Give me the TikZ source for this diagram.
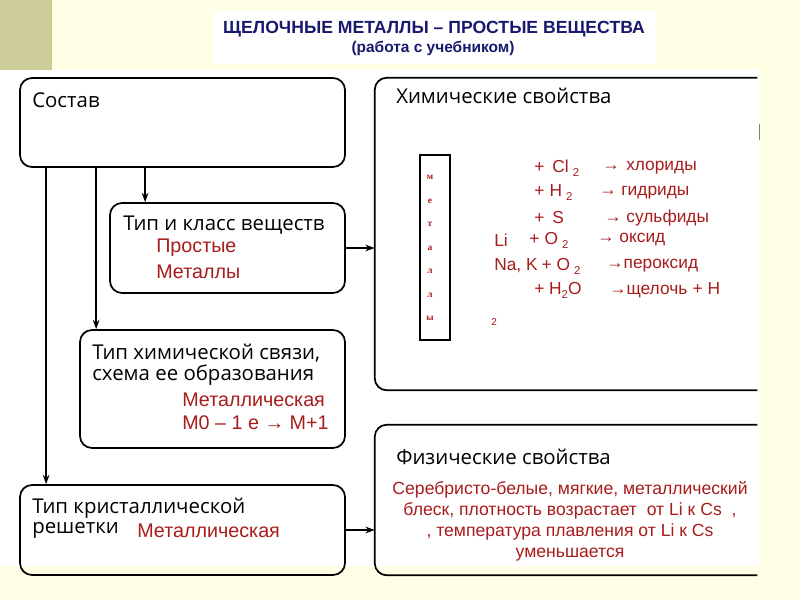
\documentclass[tikz,border=0pt]{standalone}
\usepackage{fontspec}
\setmainfont{Liberation Sans}
\newfontfamily\gothic{Open Sans}
\newfontfamily\smallserif{Liberation Serif}
\usetikzlibrary{arrows.meta,calc}

\definecolor{fon}{RGB}{255,255,230}
\definecolor{olivebar}{RGB}{204,204,153}
\definecolor{navy}{RGB}{25,25,110}
\definecolor{krasn}{RGB}{168,28,28}
\newcommand{\fsz}[2]{\fontsize{#1}{#2}\selectfont}
\newcommand{\ind}[1]{\raisebox{-3pt}{\fsz{8.5pt}{9pt}#1}}

\begin{document}
\begin{tikzpicture}[x=0.75pt,y=0.75pt,yscale=-1,xscale=1,
  box/.style={draw,line width=1.3pt,rounded corners=9pt,inner sep=0pt},
  arr/.style={line width=1pt,-{Stealth[length=7pt,width=5pt]}},
  lbl/.style={anchor=west,inner sep=0.75pt,font=\gothic\fsz{15.3pt}{18pt}},
  rtxt/.style={anchor=west,inner sep=0.75pt,text=krasn,font=\fsz{14.8pt}{17pt}},
  chem/.style={anchor=west,inner sep=0.75pt,text=krasn,font=\fsz{13pt}{15pt}}]

% background
\fill[fon] (0,0) rectangle (800,600);
\fill[olivebar] (0,0) rectangle (52,72);
\fill[white] (213,11) rectangle (656,64);
\fill[white] (0,70) rectangle (760,566);

% title
\node[font=\bfseries\fsz{13.2pt}{15pt},text=navy] (title) at (434,29) {ЩЕЛОЧНЫЕ МЕТАЛЛЫ – ПРОСТЫЕ ВЕЩЕСТВА};
\node[font=\bfseries\fsz{11.6pt}{13pt},text=navy] (subtitle) at (433,48) {(работа с учебником)};

% boxes
\node[box,minimum width=243.75pt,minimum height=66.75pt] (sostav) at (182.5,122.5) {};
\node[box,minimum width=176.25pt,minimum height=67.5pt] (tipklass) at (227.5,248) {};
\node[box,minimum width=198.75pt,minimum height=88.5pt] (svyaz) at (212.5,389) {};
\node[box,minimum width=243.75pt,minimum height=67.5pt] (reshetka) at (182.5,530) {};
\node[minimum width=286.5pt,minimum height=234pt,inner sep=0pt] (himsv) at (566,234) {};
\node[minimum width=286.5pt,minimum height=112.5pt,inner sep=0pt] (fizsv) at (566,500) {};
\draw[line width=1.3pt,rounded corners=9pt] (himsv.north east) -- (himsv.north west) -- (himsv.south west) -- (himsv.south east);
\draw[line width=1.3pt,rounded corners=9pt] (fizsv.north east) -- (fizsv.north west) -- (fizsv.south west) -- (fizsv.south east);
\draw[line width=0.4pt,gray] (759,124) -- (759,140);

% connectors
\coordinate (c1) at ($(sostav.south west)+(126,0)$);
\coordinate (c2) at ($(sostav.south west)+(77,0)$);
\coordinate (c3) at ($(sostav.south west)+(27,0)$);
\draw[arr] (c1) -- (c1 |- tipklass.north);
\draw[arr] (c2) -- (c2 |- svyaz.north);
\draw[arr] (c3) -- (c3 |- reshetka.north);
\draw[arr] (tipklass.east) -- (tipklass.east -| himsv.west);
\draw[arr] (reshetka.east) -- (reshetka.east -| fizsv.west);

% box texts
\node[lbl] (sostavtxt) at (31,100) {Состав};
\node[lbl] (klasstxt) at (122,225) {Тип и класс веществ};
\node[rtxt] (prostye) at (155,248) {Простые};
\node[rtxt] (metally) at (155,272) {Металлы};
\node[lbl] (svyaztxt1) at (91,353) {Тип химической связи,};
\node[lbl] (svyaztxt2) at (91,375) {схема ее образования};
\node[rtxt] (metsvyaz) at (181,400) {Металлическая};
\node[rtxt] (shema) at (181,423) {М0 – 1 е → М+1};
\node[lbl] (reshtxt1) at (31,508) {Тип кристаллической};
\node[lbl] (reshtxt2) at (31,530) {решетки};
\node[rtxt] (metresh) at (136,531) {Металлическая};
\node[lbl] (himtxt) at (395,96) {Химические свойства};
\node[lbl] (fiztxt) at (395,457) {Физические свойства};
\node[anchor=center,inner sep=0.75pt,text=krasn,align=center,font=\fsz{13.2pt}{15.75pt}] (fizdata) at (570,521)
  {Серебристо-белые, мягкие, металлический\\блеск, плотность возрастает~ от Li к Cs~ ,\\, температура плавления от Li к Cs\\уменьшается};

% metals box
\node[draw,line width=1pt,minimum width=22.5pt,minimum height=138.75pt,inner sep=0pt] (metbox) at (435,247.5) {};
\foreach \b [count=\i] in {м,е,т,а,л,л,ы}
  \node[text=krasn,font=\smallserif\bfseries\fsz{7pt}{8pt},inner sep=0pt] (let\i) at (430,154+23.5*\i) {\b};

% reactions
\node[chem] (r1a) at (533,168) {+\hspace{6pt}Cl\hspace{3pt}\ind{2}};
\node[chem] (r1b) at (601,168) {→\hspace{5pt}хлориды};
\node[chem] (r2a) at (533,193) {+\hspace{4pt}H\hspace{3pt}\ind{2}};
\node[chem] (r2b) at (598,193) {→ гидриды};
\node[chem] (r3a) at (533,218) {+\hspace{6pt}S};
\node[chem] (r3b) at (603,218) {→ сульфиды};
\node[chem] (r4a) at (493,240) {Li};
\node[chem] (r4b) at (528,240) {+\hspace{4pt}O\hspace{3pt}\ind{2}};
\node[chem] (r4c) at (596,240) {→ оксид};
\node[chem] (r5a) at (493,266) {Na, K\hspace{3pt}+ O\hspace{3pt}\ind{2}};
\node[chem] (r5b) at (605,266) {→пероксид};
\node[chem] (r6a) at (533,290) {+ H\ind{2}O};
\node[chem] (r6b) at (608,290) {→щелочь\hspace{4pt}+ H};
\node[chem,font=\fsz{7.5pt}{8pt}] (r6c) at (490,322) {2};

\end{tikzpicture}
\end{document}
